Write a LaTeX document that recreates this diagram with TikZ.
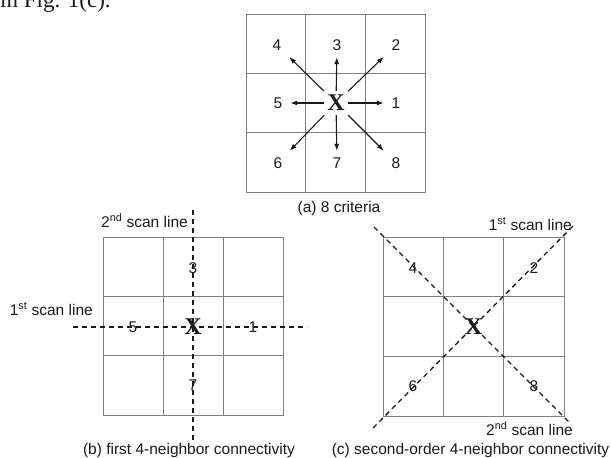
\documentclass[tikz,border=0pt]{standalone}
\usepackage{fontspec}
\setmainfont{Liberation Sans}
\newfontfamily\timesfont{Liberation Serif}
\usetikzlibrary{arrows.meta}
\definecolor{GridGray}{HTML}{808080}
\definecolor{Ink}{HTML}{1A1A1A}

\begin{document}
\begin{tikzpicture}[x=1pt,y=-1pt,text=Ink,cell/.style={draw=GridGray,line width=0.9pt},num/.style={font=\fontsize{15.5}{18}\selectfont,inner sep=0pt,minimum size=24pt},bigx/.style={font=\timesfont\bfseries\fontsize{24}{26}\selectfont,inner sep=0pt,minimum size=24pt},caption/.style={font=\fontsize{15.5}{18}\selectfont,inner sep=0pt},arrow/.style={-{Latex[length=7pt,width=5pt]},line width=1.1pt,draw=Ink},scanline/.style={dash pattern=on 5pt off 4pt,line width=1.3pt,draw=Ink}]
\useasboundingbox (0,0) rectangle (611,458);
\node[anchor=base west,inner sep=0pt,font=\timesfont\fontsize{23}{26}\selectfont] (lead) at (0,7){in Fig. 1(c).};
% (a) 8 criteria
\draw[cell] (246,14) rectangle (425,192) (305.7,14) -- (305.7,192) (365.3,14) -- (365.3,192) (246,73.3) -- (425,73.3) (246,132.7) -- (425,132.7);
\node[bigx] (xa) at (336,103){X};
\node[num] (a4) at (277,45){4};\node[num] (a3) at (337,45){3};\node[num] (a2) at (396,45){2};
\node[num] (a5) at (278,103){5};\node[num] (a1) at (396,103){1};
\node[num] (a6) at (278,163){6};\node[num] (a7) at (337,163){7};\node[num] (a8) at (396,163){8};
\draw[arrow] (xa) -- (a1);\draw[arrow] (xa) -- (a2);\draw[arrow] (xa) -- (a3);\draw[arrow] (xa) -- (a4);
\draw[arrow] (xa) -- (a5);\draw[arrow] (xa) -- (a6);\draw[arrow] (xa) -- (a7);\draw[arrow] (xa) -- (a8);
\node[caption,anchor=base] (capa) at (339,212){(a) 8 criteria};
% (b) first 4-neighbor connectivity
\draw[cell] (103,237) rectangle (283,415) (163,237) -- (163,415) (223,237) -- (223,415) (103,296.3) -- (283,296.3) (103,355.7) -- (283,355.7);
\node[bigx] (xb) at (193,327){X};
\node[num] (b3) at (193,268){3};\node[num] (b5) at (133,327){5};\node[num] (b1) at (253,327){1};\node[num] (b7) at (193,385){7};
\coordinate (bvtop) at (193,210);\coordinate (bvbot) at (193,442);\coordinate (bhl) at (73,327);\coordinate (bhr) at (307,327);
\draw[scanline] (bvtop) -- (bvbot);\draw[scanline] (bhl) -- (bhr);
\node[caption,anchor=base east] (b2nd) at (188,227){2\textsuperscript{nd} scan line};
\node[caption,anchor=base east] (b1st) at (93,315){1\textsuperscript{st} scan line};
\node[caption,anchor=base] (capb) at (189,454){(b) first 4-neighbor connectivity};
% (c) second-order 4-neighbor connectivity
\draw[cell] (383,237) rectangle (564,416) (443.3,237) -- (443.3,416) (503.7,237) -- (503.7,416) (383,296.7) -- (564,296.7) (383,356.3) -- (564,356.3);
\node[bigx] (xc) at (473.5,326.5){X};
\node[num] (c4) at (413,268){4};\node[num] (c2) at (534,268){2};\node[num] (c6) at (413,386){6};\node[num] (c8) at (534,386){8};
\coordinate (ctl) at (374,227);\coordinate (cbr) at (571,424);\coordinate (cbl) at (373,428);\coordinate (ctr) at (574,225);
\draw[scanline] (ctl) -- (cbr);\draw[scanline] (cbl) -- (ctr);
\node[caption,anchor=base east] (c1st) at (572,230){1\textsuperscript{st} scan line};
\node[caption,anchor=base east] (c2nd) at (573,435){2\textsuperscript{nd} scan line};
\node[caption,anchor=base] (capc) at (470.5,454){(c) second-order 4-neighbor connectivity};
\end{tikzpicture}
\end{document}
